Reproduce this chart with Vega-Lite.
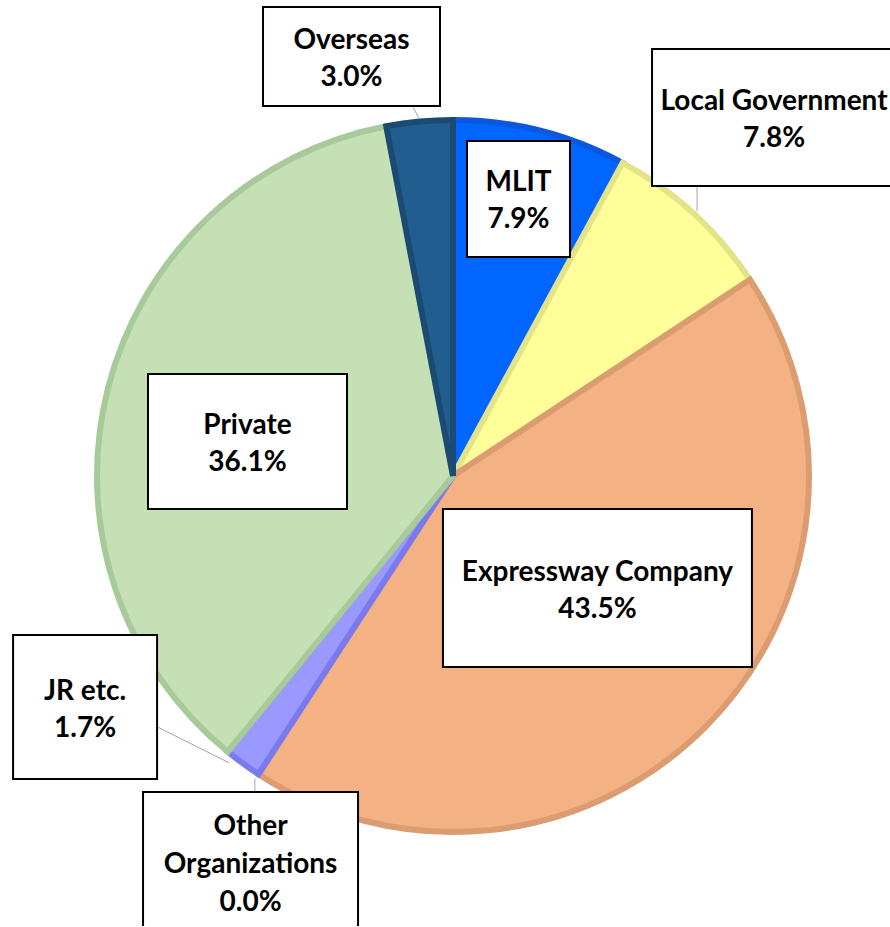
{
  "$schema": "https://vega.github.io/schema/vega-lite/v6.json",
  "width": 874,
  "height": 900,
  "autosize": "none",
  "padding": {"left": 16, "top": 26, "right": 0, "bottom": 0},
  "background": "white",
  "config": {"view": {"stroke": null}},
  "data": {
    "values": [
      {"category": "MLIT", "share": 7.9},
      {"category": "Local Government", "share": 7.8},
      {"category": "Expressway Company", "share": 43.5},
      {"category": "Other Organizations", "share": 0.0},
      {"category": "JR etc.", "share": 1.7},
      {"category": "Private", "share": 36.1},
      {"category": "Overseas", "share": 3.0}
    ]
  },
  "transform": [
    {"window": [{"op": "row_number", "as": "idx"}]},
    {"stack": "share", "groupby": [], "sort": [{"field": "idx"}], "as": ["s0", "s1"]},
    {"calculate": "PI * (datum.s0 + datum.s1) / 100", "as": "mid"},
    {"calculate": "359 * sin(datum.mid)", "as": "ax"},
    {"calculate": "359 * cos(datum.mid)", "as": "ay"},
    {"calculate": "datum.category + '\\n' + format(datum.share / 100, '.1%')", "as": "label"}
  ],
  "layer": [
    {
      "transform": [{"filter": "datum.share > 0"}],
      "mark": {"type": "arc", "outerRadius": 356, "strokeWidth": 6},
      "encoding": {
        "theta": {"field": "s0", "type": "quantitative", "scale": {"domain": [0, 100]}},
        "theta2": {"field": "s1"},
        "fill": {
          "field": "category", "type": "nominal", "legend": null,
          "scale": {
            "domain": ["MLIT", "Local Government", "Expressway Company", "Other Organizations", "JR etc.", "Private", "Overseas"],
            "range": ["#0066FF", "#FFFF99", "#F4B183", "#A5A5A5", "#9999FF", "#C5E0B4", "#215D8E"]
          }
        },
        "stroke": {
          "field": "category", "type": "nominal", "legend": null,
          "scale": {
            "domain": ["MLIT", "Local Government", "Expressway Company", "Other Organizations", "JR etc.", "Private", "Overseas"],
            "range": ["#0A58E0", "#E3E38A", "#DA9C70", "#8C8C8C", "#7A7AEE", "#A8C99A", "#1B4B73"]
          }
        }
      }
    },
    {
      "encoding": {
        "x": {"field": "ax", "type": "quantitative", "axis": null, "scale": {"domain": [-437, 437], "nice": false, "zero": false}},
        "y": {"field": "ay", "type": "quantitative", "axis": null, "scale": {"domain": [-450, 450], "nice": false, "zero": false}}
      },
      "layer": [
        {
          "transform": [{"filter": "datum.category === 'Overseas'"}],
          "layer": [
            {"mark": {"type": "rule", "color": "#A6A6A6", "strokeWidth": 1, "x2Offset": -6, "y2Offset": -11}, "encoding": {"x2": {"field": "ax"}, "y2": {"field": "ay"}}},
            {"mark": {"type": "point", "shape": "M-88.5,-49.5H88.5V49.5H-88.5Z", "size": 4, "filled": true, "fill": "white", "stroke": "black", "strokeWidth": 2, "opacity": 1, "xOffset": -67.7, "yOffset": -62.1}},
            {"mark": {"type": "text", "font": "Lato", "fontWeight": "bold", "fontSize": 28, "lineHeight": 37, "lineBreak": "\n", "align": "center", "baseline": "middle", "color": "black", "xOffset": -67.7, "yOffset": -78}, "encoding": {"text": {"field": "label"}}}
          ]
        },
        {
          "transform": [{"filter": "datum.category === 'Local Government'"}],
          "layer": [
            {"mark": {"type": "rule", "color": "#A6A6A6", "strokeWidth": 1, "xOffset": 1.6, "x2Offset": 1.6, "y2Offset": -25}, "encoding": {"x2": {"field": "ax"}, "y2": {"field": "ay"}}},
            {"mark": {"type": "point", "shape": "M-122,-68.5H122V68.5H-122Z", "size": 4, "filled": true, "fill": "white", "stroke": "black", "strokeWidth": 2, "opacity": 1, "xOffset": 78.6, "yOffset": -93.7}},
            {"mark": {"type": "text", "font": "Lato", "fontWeight": "bold", "fontSize": 28, "lineHeight": 37, "lineBreak": "\n", "align": "center", "baseline": "middle", "color": "black", "xOffset": 78.6, "yOffset": -109.5}, "encoding": {"text": {"field": "label"}}}
          ]
        },
        {
          "transform": [{"filter": "datum.category === 'MLIT'"}],
          "layer": [
            {"mark": {"type": "point", "shape": "M-51.5,-58H51.5V58H-51.5Z", "size": 4, "filled": true, "fill": "white", "stroke": "black", "strokeWidth": 2, "opacity": 1, "xOffset": -22.7, "yOffset": 71}},
            {"mark": {"type": "text", "font": "Lato", "fontWeight": "bold", "fontSize": 28, "lineHeight": 37, "lineBreak": "\n", "align": "center", "baseline": "middle", "color": "black", "xOffset": -22.7, "yOffset": 55}, "encoding": {"text": {"field": "label"}}}
          ]
        },
        {
          "transform": [{"filter": "datum.category === 'Private'"}],
          "layer": [
            {"mark": {"type": "point", "shape": "M-99.5,-67.5H99.5V67.5H-99.5Z", "size": 4, "filled": true, "fill": "white", "stroke": "black", "strokeWidth": 2, "opacity": 1, "xOffset": 142.5, "yOffset": 53.7}},
            {"mark": {"type": "text", "font": "Lato", "fontWeight": "bold", "fontSize": 28, "lineHeight": 37, "lineBreak": "\n", "align": "center", "baseline": "middle", "color": "black", "xOffset": 142.5, "yOffset": 38}, "encoding": {"text": {"field": "label"}}}
          ]
        },
        {
          "transform": [{"filter": "datum.category === 'Expressway Company'"}],
          "layer": [
            {"mark": {"type": "point", "shape": "M-154.5,-79H154.5V79H-154.5Z", "size": 4, "filled": true, "fill": "white", "stroke": "black", "strokeWidth": 2, "opacity": 1, "xOffset": -110.2, "yOffset": -141}},
            {"mark": {"type": "text", "font": "Lato", "fontWeight": "bold", "fontSize": 28, "lineHeight": 37, "lineBreak": "\n", "align": "center", "baseline": "middle", "color": "black", "xOffset": -110.2, "yOffset": -156.5}, "encoding": {"text": {"field": "label"}}}
          ]
        },
        {
          "transform": [{"filter": "datum.category === 'JR etc.'"}],
          "layer": [
            {"mark": {"type": "rule", "color": "#A6A6A6", "strokeWidth": 1, "xOffset": -12, "yOffset": -3, "x2Offset": -84, "y2Offset": -39}, "encoding": {"x2": {"field": "ax"}, "y2": {"field": "ay"}}},
            {"mark": {"type": "point", "shape": "M-72,-72H72V72H-72Z", "size": 4, "filled": true, "fill": "white", "stroke": "black", "strokeWidth": 2, "opacity": 1, "xOffset": -156, "yOffset": -58.7}},
            {"mark": {"type": "text", "font": "Lato", "fontWeight": "bold", "fontSize": 28, "lineHeight": 37, "lineBreak": "\n", "align": "center", "baseline": "middle", "color": "black", "xOffset": -156, "yOffset": -74}, "encoding": {"text": {"field": "label"}}}
          ]
        },
        {
          "transform": [
            {"filter": "datum.category === 'Other Organizations'"},
            {"calculate": "replace(datum.label, 'Other ', 'Other\\n')", "as": "label"}
          ],
          "layer": [
            {"mark": {"type": "rule", "color": "#A6A6A6", "strokeWidth": 1, "xOffset": -2, "yOffset": 2, "x2Offset": -2, "y2Offset": 15}, "encoding": {"x2": {"field": "ax"}, "y2": {"field": "ay"}}},
            {"mark": {"type": "point", "shape": "M-107.5,-71H107.5V71H-107.5Z", "size": 4, "filled": true, "fill": "white", "stroke": "black", "strokeWidth": 2, "opacity": 1, "xOffset": -6.3, "yOffset": 86.3}},
            {"mark": {"type": "text", "font": "Lato", "fontWeight": "bold", "fontSize": 28, "lineHeight": 38, "lineBreak": "\n", "align": "center", "baseline": "middle", "color": "black", "xOffset": -6.3, "yOffset": 50}, "encoding": {"text": {"field": "label"}}}
          ]
        }
      ]
    }
  ]
}
